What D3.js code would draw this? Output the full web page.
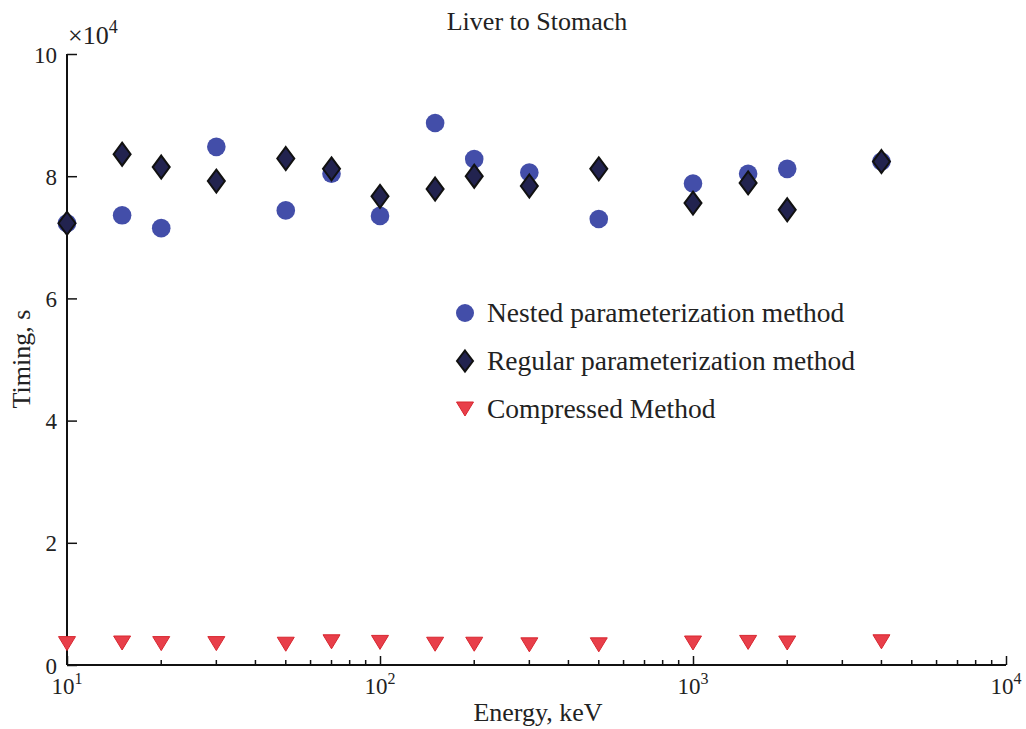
<!DOCTYPE html>
<html>
<head>
<meta charset="utf-8">
<script src="https://cdn.jsdelivr.net/npm/d3@7"></script>
<style>
  html, body { margin: 0; padding: 0; background: #fff; }
  svg { display: block; font-family: "Liberation Serif", "Times New Roman", serif; }
</style>
</head>
<body>
<svg id="chart" width="1026" height="729"></svg>
<script>
// Photon energies (keV)
const energies = [10, 15, 20, 30, 50, 70, 100, 150, 200, 300, 500, 1000, 1500, 2000, 4000];
// Timing (s) for each method
const nestedTiming = [72300, 73600, 71500, 84800, 74400, 80400, 73500, 88700, 82800, 80600, 73000, 78800, 80400, 81200, 82400];
const regularTiming = [72300, 83600, 81500, 79200, 82900, 81200, 76700, 77900, 80000, 78400, 81200, 75600, 78900, 74500, 82400];
const compressedTiming = [3500, 3600, 3500, 3500, 3400, 3800, 3700, 3400, 3400, 3300, 3300, 3600, 3700, 3600, 3800];
const yTickValues = [0, 20000, 40000, 60000, 80000, 100000];
const xTickValues = [10, 100, 1000, 10000];
const seriesNames = ["Nested parameterization method", "Regular parameterization method", "Compressed Method"];

(function () {
const svg = d3.select("#chart");
const pLeft = 67, pRight = 1006, pTop = 54, pBottom = 665;
const labelSize = 26;

const x = d3.scaleLog().domain([10, 10000]).range([pLeft, pRight]);
const y = d3.scaleLinear().domain([0, 100000]).range([pBottom, pTop]);

const colNested = "#434ea9";
const colRegular = "#22234f";
const colCompressed = "#e83f4a";

// X axis: ticks drawn inward (upward)
const minorX = [];
for (let d = 10; d < 10000; d *= 10) for (let k = 2; k <= 9; k++) minorX.push(d * k);
const gx = svg.append("g").attr("transform", `translate(0,${pBottom})`);
gx.call(d3.axisBottom(x).tickValues(xTickValues).tickSize(-9).tickFormat(""))
  .call(g => g.select(".domain").attr("d", `M${pLeft},0H${pRight}`).attr("stroke", "#111").attr("stroke-width", 2));
gx.selectAll(".tick line").attr("stroke", "#111").attr("stroke-width", 1.5);
gx.append("g").selectAll("line").data(minorX).join("line")
  .attr("x1", d => x(d)).attr("x2", d => x(d)).attr("y1", 0).attr("y2", -5)
  .attr("stroke", "#111").attr("stroke-width", 1.5);

// X tick labels as 10 with superscript exponent
const xl = svg.append("g").selectAll("text").data(xTickValues).join("text")
  .attr("x", d => x(d)).attr("y", 694).attr("text-anchor", "middle")
  .attr("font-size", 23).attr("fill", "#222");
xl.append("tspan").text("10");
xl.append("tspan").attr("font-size", 16).attr("dy", -10).text(d => Math.round(Math.log10(d)));

// Y axis: ticks drawn inward (to the right)
const gy = svg.append("g").attr("transform", `translate(${pLeft},0)`);
gy.call(d3.axisLeft(y).tickValues(yTickValues).tickSize(-10).tickPadding(10).tickFormat(d => d / 10000))
  .call(g => g.select(".domain").attr("d", `M0,${pTop}V${pBottom}`).attr("stroke", "#111").attr("stroke-width", 2));
gy.selectAll(".tick line").attr("stroke", "#111").attr("stroke-width", 1.5);
gy.selectAll(".tick text").attr("font-size", 23).attr("fill", "#222")
  .attr("font-family", "Liberation Serif, serif").attr("dy", "0.35em");

// Exponent multiplier above the y axis
const mult = svg.append("text").attr("x", 68).attr("y", 44).attr("font-size", 26).attr("fill", "#222");
mult.append("tspan").text("\u00d710");
mult.append("tspan").attr("font-size", 18).attr("dy", -11).text("4");

// Titles
svg.append("text").attr("x", 537).attr("y", 30).attr("text-anchor", "middle")
  .attr("font-size", labelSize).attr("fill", "#222").text("Liver to Stomach");
svg.append("text").attr("x", 538).attr("y", 721).attr("text-anchor", "middle")
  .attr("font-size", labelSize).attr("fill", "#222").text("Energy, keV");
svg.append("text").attr("transform", "translate(30,359) rotate(-90)").attr("text-anchor", "middle")
  .attr("font-size", labelSize).attr("fill", "#222").text("Timing, s");

// Marker shapes
const diamondPath = (w, h) => `M0,${-h / 2}L${w / 2},0L0,${h / 2}L${-w / 2},0Z`;
const trianglePath = (w, h) => `M${-w / 2},${-h / 2}L${w / 2},${-h / 2}L0,${h / 2}Z`;

// Nested: circles
svg.append("g").selectAll("circle").data(energies).join("circle")
  .attr("cx", d => x(d)).attr("cy", (d, i) => y(nestedTiming[i])).attr("r", 9.3)
  .attr("fill", colNested);

// Regular: diamonds
svg.append("g").selectAll("path").data(energies).join("path")
  .attr("transform", (d, i) => `translate(${x(d)},${y(regularTiming[i])})`)
  .attr("d", diamondPath(17, 23))
  .attr("fill", colRegular).attr("stroke", "#111").attr("stroke-width", 2);

// Compressed: downward triangles
svg.append("g").selectAll("path").data(energies).join("path")
  .attr("transform", (d, i) => `translate(${x(d)},${y(compressedTiming[i])})`)
  .attr("d", trianglePath(17, 14))
  .attr("fill", colCompressed).attr("stroke", "#d8262f").attr("stroke-width", 1);

// Legend
const legend = svg.append("g");
const ly = [313, 361, 409];
legend.append("circle").attr("cx", 465).attr("cy", ly[0]).attr("r", 9).attr("fill", colNested);
legend.append("path").attr("transform", `translate(465,${ly[1]})`).attr("d", diamondPath(16, 21))
  .attr("fill", colRegular).attr("stroke", "#111").attr("stroke-width", 2);
legend.append("path").attr("transform", `translate(465,${ly[2]})`).attr("d", trianglePath(17, 14))
  .attr("fill", colCompressed).attr("stroke", "#d8262f").attr("stroke-width", 1);
legend.selectAll("text").data(seriesNames).join("text")
  .attr("x", 487).attr("y", (d, i) => ly[i] + 9)
  .attr("font-size", 27.5).attr("fill", "#222").text(d => d);
})();
</script>
</body>
</html>
